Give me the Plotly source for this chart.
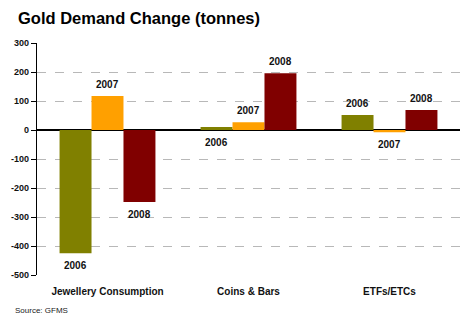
import plotly.graph_objects as go

categories = ["Jewellery Consumption", "Coins & Bars", "ETFs/ETCs"]
years = ["2006", "2007", "2008"]
values_2006 = [-425, 10, 52]
values_2007 = [117, 27, -8]
values_2008 = [-248, 196, 69]
series = [values_2006, values_2007, values_2008]
colors = ["#808000", "#FFA000", "#800000"]
# label side per bar (above/below) as in the original
label_side = [["below", "below", "above"],
              ["above", "above", "below"],
              ["below", "above", "above"]]
y_ticks = [-500, -400, -300, -200, -100, 0, 100, 200, 300]
y_tick_labels = ["-500", "-400", "-300", "-200", "-100", "0", "100", "200", "300"]

fig = go.Figure()
for yr, vals, col in zip(years, series, colors):
    fig.add_trace(go.Bar(x=categories, y=vals, name=yr, marker_color=col,
                         marker_line_width=0))

shifts = [-32, 0, 32]
for i, (yr, vals) in enumerate(zip(years, series)):
    for j, cat in enumerate(categories):
        side = label_side[i][j]
        y = vals[j] if (side == "above") == (vals[j] >= 0) else 0
        fig.add_annotation(x=cat, y=y, xref="x", yref="y", text="<b>" + yr + "</b>",
                           showarrow=False, xshift=shifts[i],
                           yanchor="bottom" if side == "above" else "top",
                           yshift=4 if side == "above" else -5,
                           font=dict(family="Liberation Sans, Arial", size=10,
                                     color="#111"))

fig.add_annotation(text="<b>Gold Demand Change (tonnes)</b>", xref="paper", yref="paper",
                   x=-0.05, y=1.0, yshift=25, xanchor="left", yanchor="middle", showarrow=False,
                   font=dict(family="Liberation Sans, Arial", size=16.5, color="#000"))
fig.add_annotation(text="Source: GFMS", xref="paper", yref="paper",
                   x=-0.057, y=0, yshift=-35, xanchor="left", yanchor="middle", showarrow=False,
                   font=dict(family="Liberation Sans, Arial", size=8, color="#222"))

fig.update_layout(
    width=466, height=325,
    margin=dict(l=37, r=6, t=43, b=50),
    paper_bgcolor="white", plot_bgcolor="white",
    barmode="group", bargap=0.32, bargroupgap=0,
    showlegend=False,
    font=dict(family="Liberation Sans, Arial", size=10, color="#111"),
)
fig.update_yaxes(range=[-500, 300], tickvals=y_ticks,
                 ticktext=["<b>" + t + "</b>" for t in y_tick_labels],
                 showgrid=True, gridcolor="#b8b8b8", griddash="dash", gridwidth=1,
                 zeroline=True, zerolinecolor="#000", zerolinewidth=1.5,
                 showline=True, linecolor="#000", linewidth=1.2,
                 ticks="outside", ticklen=5, tickcolor="#000",
                 tickfont=dict(family="Liberation Sans, Arial", size=9, color="#111"))
fig.update_xaxes(showgrid=False, showline=False, ticks="",
                 ticklabelstandoff=9,
                 tickfont=dict(family="Liberation Sans, Arial", size=10, color="#111"),
                 tickprefix="<b>", ticksuffix="</b>")

fig.write_html("out.html")
